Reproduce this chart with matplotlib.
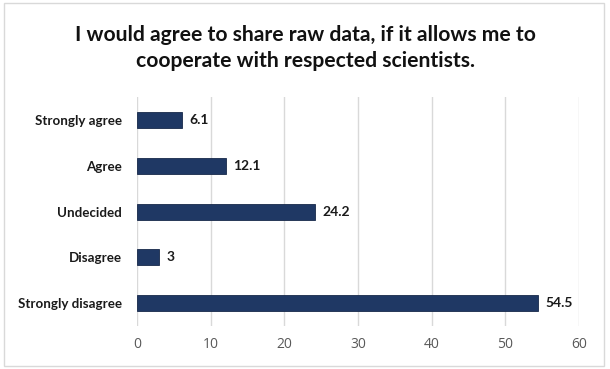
import matplotlib.pyplot as plt
from matplotlib.patches import Rectangle

# Survey answers (percent)
categories = ["Strongly agree", "Agree", "Undecided", "Disagree", "Strongly disagree"]
values = [6.1, 12.1, 24.2, 3, 54.5]
value_labels = ["6.1", "12.1", "24.2", "3", "54.5"]
xticks = [0, 10, 20, 30, 40, 50, 60]

fig = plt.figure(figsize=(6.1, 3.69), dpi=100)
ax = fig.add_axes([0.2246, 0.1165, 0.7246, 0.6205])

ypos = list(range(len(categories)))[::-1]
ax.barh(ypos, values, height=0.35, color="#1f3864", edgecolor="#17294a", linewidth=0.6, zorder=3)

for y, v, lab in zip(ypos, values, value_labels):
    ax.text(v + 1.0, y, lab, va="center", ha="left", fontsize=10,
            fontweight="bold", family="Lato", color="#1a1a1a")

ax.set_xlim(0, 60)
ax.set_ylim(-0.5, len(categories) - 0.5)
ax.set_yticks(ypos)
ax.set_yticklabels(categories, fontsize=9.6, fontweight="bold", family="Lato", color="#1a1a1a")
ax.set_xticks(xticks)
ax.set_xticklabels([str(t) for t in xticks], fontsize=10, family="Open Sans", color="#595959")
ax.tick_params(length=0)
ax.tick_params(axis="x", pad=8)
ax.tick_params(axis="y", pad=11)
ax.grid(axis="x", color="#d9d9d9", linewidth=1, zorder=0)
for s in ax.spines.values():
    s.set_visible(False)

fig.text(0.5, 0.87, "I would agree to share raw data, if it allows me to\ncooperate with respected scientists.",
         ha="center", va="center", fontsize=15.2, fontweight="bold", family="Lato",
         color="#111111", linespacing=1.35)

fig.patches.append(Rectangle((0.006, 0.008), 0.984, 0.984, transform=fig.transFigure,
                             fill=False, edgecolor="#d9d9d9", linewidth=1))

fig.savefig("out.png", dpi=100)
